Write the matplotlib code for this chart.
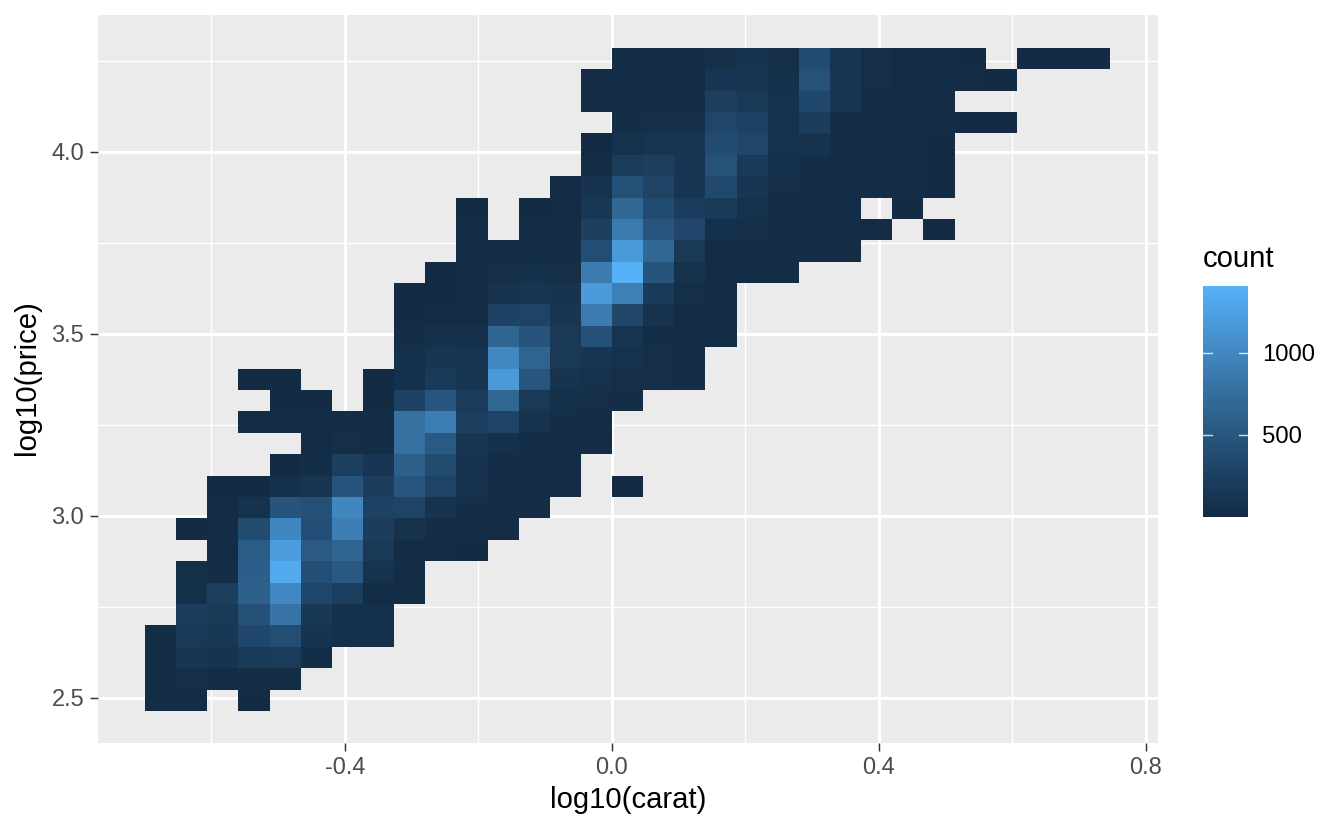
import numpy as np
import matplotlib
matplotlib.use('Agg')
import matplotlib.pyplot as plt
from matplotlib.colors import LinearSegmentedColormap

plt.rcParams['font.family'] = ['Liberation Sans', 'DejaVu Sans']

# bins, counts; each row runs from first_col, top row first
x_start = -0.6996
x_bin = 0.04665
y_top = 4.286
y_bin = 0.05877
n_bins = 31

first_col = [15, 14, 14, 15, 14, 14, 13, 10, 10, 10, 9, 8, 8, 8, 8, 3,
             4, 3, 5, 4, 2, 2, 1, 2, 1, 1, 1, 0, 0, 0, 0]
row_counts = [
    [25, 35, 25, 45, 100, 50, 380, 130, 50, 25, 20, 15, 0, 5, 5, 5],
    [20, 25, 30, 30, 130, 110, 60, 450, 130, 50, 30, 25, 20, 10],
    [20, 25, 40, 40, 240, 170, 70, 340, 130, 30, 25, 20],
    [40, 50, 50, 310, 260, 70, 220, 40, 25, 20, 20, 10, 10],
    [15, 70, 110, 120, 390, 310, 70, 100, 20, 25, 20, 15],
    [30, 200, 230, 130, 450, 180, 60, 40, 25, 25, 20, 15],
    [20, 100, 420, 280, 130, 350, 130, 50, 30, 25, 25, 20, 15],
    [15, 0, 15, 20, 150, 680, 380, 220, 180, 70, 30, 25, 25, 0, 10],
    [20, 0, 20, 20, 250, 860, 480, 330, 60, 50, 30, 25, 20, 20, 0, 10],
    [20, 40, 40, 35, 400, 1180, 680, 170, 30, 30, 25, 25, 20],
    [15, 25, 50, 60, 50, 880, 1408, 470, 80, 30, 30, 25],
    [15, 15, 20, 80, 120, 90, 1190, 920, 180, 50, 30],
    [15, 20, 20, 270, 290, 120, 880, 320, 90, 30, 30],
    [40, 60, 60, 650, 470, 170, 430, 110, 40, 30, 30],
    [60, 120, 110, 1000, 640, 170, 130, 70, 50, 30],
    [10, 10, 0, 0, 10, 60, 180, 120, 1170, 480, 90, 70, 55, 50, 40],
    [10, 10, 0, 15, 270, 490, 190, 660, 170, 60, 50, 40],
    [25, 25, 25, 30, 40, 780, 900, 230, 290, 80, 40, 30],
    [30, 50, 40, 770, 530, 120, 60, 30, 25, 20],
    [10, 40, 230, 130, 600, 370, 100, 25, 25, 25],
    [10, 10, 60, 110, 470, 220, 480, 300, 90, 20, 20, 20, 0, 15],
    [30, 80, 470, 420, 980, 270, 280, 100, 40, 30, 20],
    [15, 20, 370, 980, 410, 900, 220, 90, 40, 30, 20],
    [30, 560, 1210, 530, 640, 170, 20, 20, 15],
    [50, 40, 580, 1330, 410, 520, 90, 30],
    [60, 230, 600, 1000, 330, 230, 30, 30],
    [220, 170, 440, 800, 160, 60, 60],
    [30, 170, 150, 330, 400, 100, 60, 60],
    [30, 130, 100, 180, 190, 40],
    [30, 50, 30, 40, 30],
    [25, 20, 0, 15],
]

x_major = [-0.4, 0.0, 0.4, 0.8]
x_minor = [-0.6, -0.2, 0.2, 0.6]
y_major = [2.5, 3.0, 3.5, 4.0]
y_minor = [2.75, 3.25, 3.75, 4.25]
legend_ticks = [500, 1000]

W, H = 1344, 830
fig = plt.figure(figsize=(W / 200, H / 200), dpi=200, facecolor='white')


def px_axes(left, top, right, bottom):
    return fig.add_axes([left / W, 1 - bottom / H, (right - left) / W, (bottom - top) / H])


# fill the grid, empty bins stay masked
grid = np.zeros((n_bins, n_bins))
for r, vals in enumerate(row_counts):
    grid[r, first_col[r]:first_col[r] + len(vals)] = vals
grid = np.ma.masked_equal(grid, 0)

x_edges = x_start + x_bin * np.arange(n_bins + 1)
y_edges = y_top - y_bin * np.arange(n_bins + 1)

cmap = LinearSegmentedColormap.from_list(
    'gg_blue', ['#132B43', '#21496E', '#326A97', '#448DC9', '#56B1F7'])

ax = px_axes(98, 15, 1158, 743)
ax.set_facecolor('#EBEBEB')
ax.set_xlim(-0.770, 0.818)
ax.set_ylim(2.376, 4.376)
for s in ax.spines.values():
    s.set_visible(False)

ax.set_xticks(x_major)
ax.set_yticks(y_major)
ax.set_xticks(x_minor, minor=True)
ax.set_yticks(y_minor, minor=True)
ax.set_xticklabels(['-0.4', '0.0', '0.4', '0.8'])
ax.set_yticklabels(['2.5', '3.0', '3.5', '4.0'])
ax.grid(True, which='major', color='white', lw=1.07)
ax.grid(True, which='minor', color='white', lw=0.53)
ax.set_axisbelow(True)
ax.tick_params(which='major', length=2.75, width=0.53, color='#333333',
               labelcolor='#4D4D4D', labelsize=8.5, pad=2.2)
ax.tick_params(which='minor', length=0)

mesh = ax.pcolormesh(x_edges, y_edges, grid, cmap=cmap, vmin=1, vmax=1408,
                     edgecolors='none', antialiased=False, zorder=2)

fig.text(628 / W, 1 - 800 / H, 'log10(carat)', fontsize=10.55, ha='center', va='center')
fig.text(27 / W, 1 - 378 / H, 'log10(price)', fontsize=10.55, ha='center', va='center', rotation=90)

# legend
cax = px_axes(1203, 286, 1248, 516.5)
cb = fig.colorbar(mesh, cax=cax, ticks=legend_ticks)
cb.outline.set_visible(False)
cb.ax.tick_params(length=0, labelsize=8.6, labelcolor='black', pad=5)
for v in legend_ticks:
    cax.plot([0, 0.2], [v, v], color='white', lw=0.5, alpha=0.8,
             transform=cax.get_yaxis_transform())
    cax.plot([0.8, 1], [v, v], color='white', lw=0.5, alpha=0.8,
             transform=cax.get_yaxis_transform())
fig.text(1203 / W, 1 - 259 / H, 'count', fontsize=10.55, ha='left', va='center')

fig.savefig('out.png', dpi=200)
